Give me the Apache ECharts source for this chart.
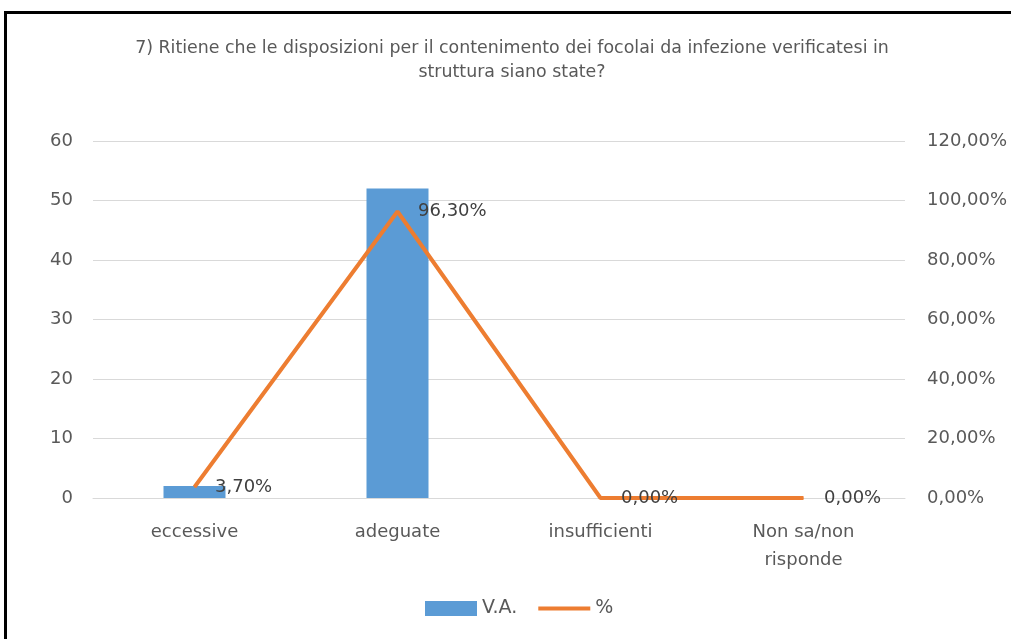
<!DOCTYPE html>
<html>
<head>
<meta charset="utf-8">
<script src="https://cdn.jsdelivr.net/npm/echarts@6/dist/echarts.min.js"></script>
<style>
  html, body { margin: 0; padding: 0; background: #fff; }
  #frame { position: absolute; left: 4px; top: 11px; width: 1030px; height: 660px; border: 3px solid #000; box-sizing: border-box; }
  #chart { position: absolute; left: 0; top: 0; width: 1011px; height: 639px; }
</style>
</head>
<body>
<div id="frame"></div>
<div id="chart"></div>
<script>
// categorie e valori
const categories = ['eccessive', 'adeguate', 'insufficienti', 'Non sa/non risponde'];
const va = [2, 52, 0, 0];
const perc = [3.70, 96.30, 0, 0];
const titleText = '7) Ritiene che le disposizioni per il contenimento dei focolai da infezione verificatesi in\nstruttura siano state?';

const font = 'DejaVu Sans';
const grey = '#595959';

function pct(v) {
  return v.toFixed(2).replace('.', ',') + '%';
}

const chart = echarts.init(document.getElementById('chart'));
chart.setOption({
  animation: false,
  title: {
    text: titleText,
    left: 507,
    top: 31,
    textAlign: 'center',
    textStyle: { fontFamily: font, fontSize: 17.4, fontWeight: 'normal', color: grey, lineHeight: 24 }
  },
  grid: { left: 93, right: 106, top: 141, bottom: 141 },
  legend: {
    left: 420,
    top: 594,
    itemWidth: 52,
    itemHeight: 15,
    itemGap: 19,
    textStyle: { fontFamily: font, fontSize: 19, color: grey },
    data: [
      { name: 'V.A.', icon: 'rect' },
      { name: '%', itemStyle: { opacity: 0 }, lineStyle: { width: 4 } }
    ]
  },
  xAxis: {
    type: 'category',
    data: categories,
    axisLine: { lineStyle: { color: '#d9d9d9' } },
    axisTick: { show: false },
    axisLabel: {
      fontFamily: font, fontSize: 18, color: grey, margin: 20, lineHeight: 28,
      formatter: v => v.replace('/non ', '/non\n')
    }
  },
  yAxis: [
    {
      type: 'value', min: 0, max: 60, interval: 10,
      axisLabel: { fontFamily: font, fontSize: 18, color: grey, margin: 20 },
      splitLine: { lineStyle: { color: '#d9d9d9' } },
      axisLine: { show: false }, axisTick: { show: false }
    },
    {
      type: 'value', min: 0, max: 120, interval: 20,
      axisLabel: { fontFamily: font, fontSize: 18, color: grey, margin: 22, formatter: pct },
      splitLine: { show: false },
      axisLine: { show: false }, axisTick: { show: false }
    }
  ],
  series: [
    {
      name: 'V.A.',
      type: 'bar',
      data: va,
      barWidth: 62,
      itemStyle: { color: '#5b9bd5' }
    },
    {
      name: '%',
      type: 'line',
      yAxisIndex: 1,
      data: perc,
      symbol: 'circle',
      symbolSize: 1,
      lineStyle: { color: '#ed7d31', width: 4 },
      itemStyle: { color: '#ed7d31' },
      label: {
        show: true,
        position: 'right',
        distance: 20,
        fontFamily: font, fontSize: 18, color: '#404040',
        formatter: p => pct(p.value)
      }
    }
  ]
});
</script>
</body>
</html>
